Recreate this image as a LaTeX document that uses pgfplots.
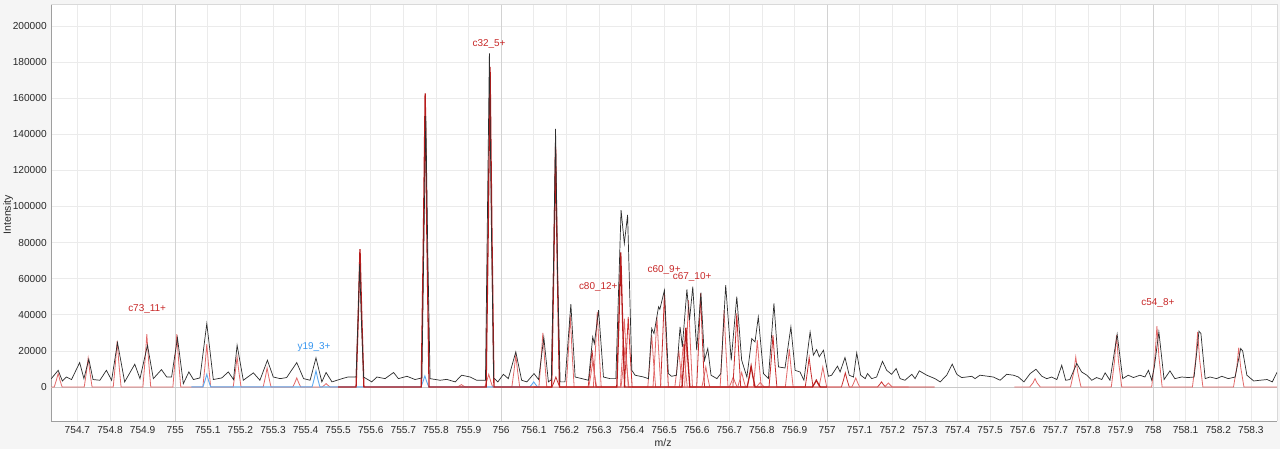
\documentclass[border=0pt]{standalone}
\usepackage{fontspec}
\setmainfont{Liberation Sans}
\usepackage{pgfplots}
\usepackage{pgfplotstable}
\pgfplotsset{compat=1.18}

\definecolor{bg}{RGB}{245,245,245}
\definecolor{gridc}{RGB}{235,235,235}
\definecolor{gridmaj}{RGB}{210,210,210}
\definecolor{zeroc}{RGB}{200,200,200}
\definecolor{expc}{RGB}{45,45,45}
\definecolor{darkred}{RGB}{183,28,28}
\definecolor{midred}{RGB}{200,45,45}
\definecolor{lightred}{RGB}{226,105,105}
\definecolor{lblred}{RGB}{200,40,40}
\definecolor{ionblue}{RGB}{95,170,240}
\definecolor{lblblue}{RGB}{55,150,240}
\definecolor{tickc}{RGB}{40,40,40}

% experimental trace (m/z, intensity)
\pgfplotstableread{
x y
754.620 4600
754.641 9200
754.654 3300
754.666 5500
754.682 4100
754.707 13500
754.720 4600
754.735 15400
754.748 4100
754.769 3700
754.789 9200
754.805 3700
754.823 24600
754.845 2800
754.876 12600
754.892 4600
754.915 23100
754.933 4600
754.958 9600
754.974 5500
754.989 5500
755.007 27200
755.025 1800
755.042 8300
755.056 4100
755.076 5000
755.097 35100
755.117 4100
755.143 5000
755.163 8300
755.179 4100
755.190 23100
755.209 3700
755.240 7800
755.260 3700
755.283 14800
755.301 5500
755.322 4600
755.342 5200
755.373 13500
755.394 4600
755.414 3700
755.432 16100
755.450 2800
755.463 8000
755.481 2800
755.512 4600
755.530 5500
755.548 5500
755.555 5500
755.561 38000
755.566 68000
755.571 38000
755.578 5500
755.603 2800
755.619 5500
755.644 4600
755.670 8000
755.685 4600
755.711 5900
755.736 4100
755.757 5000
755.763 80000
755.769 150000
755.775 75000
755.782 4600
755.813 3700
755.833 4200
755.859 2800
755.879 6500
755.905 5500
755.925 3700
755.946 3700
755.952 3700
755.958 95000
755.964 185000
755.970 90000
755.977 5000
755.990 2800
756.007 7000
756.022 4600
756.045 19400
756.063 3700
756.079 2800
756.101 7400
756.115 4100
756.131 27500
756.145 2800
756.154 4000
756.161 70000
756.167 143000
756.173 65000
756.181 2800
756.196 2800
756.214 45900
756.227 5500
756.248 4600
756.268 3700
756.281 27700
756.286 24000
756.299 42500
756.314 5500
756.334 4600
756.352 4600
756.368 98000
756.378 79500
756.388 95300
756.401 9200
756.411 6500
756.437 5500
756.452 4600
756.462 32400
756.469 29600
756.483 44400
756.487 43000
756.501 53600
756.513 7400
756.523 5900
756.538 6500
756.549 33300
756.556 22200
756.570 54000
756.578 37000
756.588 55500
756.600 20350
756.613 52200
756.624 14800
756.634 21300
756.644 6500
756.662 4600
756.674 7400
756.689 56400
756.706 14800
756.723 50000
756.738 14800
756.754 5500
756.769 26800
756.779 25000
756.789 38800
756.805 7400
756.820 4600
756.837 46250
756.851 11100
756.871 10500
756.889 33300
756.902 9200
756.917 8300
756.929 3700
756.948 30500
756.958 17600
756.968 20700
756.976 16700
756.989 20350
757.004 5900
757.014 6500
757.032 11500
757.040 8300
757.055 16300
757.068 6500
757.081 5500
757.091 18900
757.103 6500
757.117 4600
757.124 7400
757.137 4600
757.152 5500
757.170 14200
757.183 9200
757.198 7000
757.212 10200
757.224 4600
757.239 3700
757.260 7000
757.270 4600
757.283 8900
757.306 6500
757.331 4600
757.347 2800
757.367 6500
757.384 12600
757.398 7000
757.413 5200
757.428 5500
757.444 5900
757.454 4600
757.469 6500
757.490 6000
757.510 5500
757.531 3700
757.551 7000
757.572 6500
757.587 5500
757.604 2800
757.623 7400
757.641 9800
757.659 5900
757.674 4600
757.689 5500
757.705 4100
757.720 12000
757.732 3700
757.745 4100
757.766 13000
757.781 8300
757.797 6500
757.812 3700
757.827 5200
757.843 4100
757.853 7800
757.868 3700
757.890 29200
757.907 4600
757.924 6500
757.940 5200
757.960 6500
757.975 5500
757.986 9200
757.996 3700
758.004 11000
758.018 30500
758.034 4100
758.052 8900
758.067 4600
758.088 5500
758.108 5200
758.126 5500
758.141 30900
758.147 29600
758.160 4600
758.175 5500
758.195 4600
758.211 5900
758.231 4600
758.252 5500
758.269 21300
758.275 20000
758.288 6500
758.309 3300
758.328 3700
758.350 4100
758.366 2800
758.381 8300
}\exptrace

\begin{document}
\begin{tikzpicture}[x=1bp,y=1bp]
\fill[bg] (-51,-28) rectangle (1229,421);
\begin{axis}[
  at={(0,0)}, anchor=south west,
  scale only axis, width=1226bp, height=417bp,
  xmin=754.6196, xmax=758.3804,
  ymin=-18840, ymax=212180,
  axis background/.style={fill=white},
  axis lines*=left,
  axis line style={draw=gray!75, line width=0.7bp},
  xtick distance=0.1,
  ytick={0,20000,40000,60000,80000,100000,120000,140000,160000,180000,200000},
  scaled x ticks=false, scaled y ticks=false,
  major tick length=0pt,
  tick style={draw=none},
  tick label style={font=\fontsize{10.2}{12}\selectfont, text=tickc},
  xticklabel style={/pgf/number format/fixed, /pgf/number format/precision=1,
    /pgf/number format/1000 sep={}, /pgf/number format/assume math mode=true, yshift=-2bp},
  yticklabel style={/pgf/number format/fixed, /pgf/number format/precision=0,
    /pgf/number format/1000 sep={}, /pgf/number format/assume math mode=true, xshift=-1bp},
  grid=major,
  major grid style={draw=gridc, line width=0.6bp},
  extra x ticks={755,756,757,758},
  extra x tick labels={},
  extra x tick style={major grid style={draw=gridmaj, line width=0.8bp}},
  extra y ticks={0},
  extra y tick labels={},
  extra y tick style={major grid style={draw=zeroc, line width=0.8bp}},
]
% c73_11+
\addplot[lightred, line width=0.8bp] coordinates {
(754.620,0) (754.629,0) (754.6355,3750) (754.641,7500) (754.6465,3750) (754.653,0)
(754.721,0) (754.7275,8000) (754.733,16000) (754.7385,8000) (754.745,0)
(754.810,0) (754.8165,12650) (754.822,25300) (754.8275,12650) (754.834,0)
(754.901,0) (754.9075,14600) (754.913,29200) (754.9185,14600) (754.925,0)
(754.993,0) (754.9995,14600) (755.005,29200) (755.0105,14600) (755.017,0)
(755.085,0) (755.0915,11850) (755.097,23700) (755.1025,11850) (755.109,0)
(755.178,0) (755.1845,8300) (755.190,16600) (755.1955,8300) (755.202,0)
(755.270,0) (755.2765,5250) (755.282,10500) (755.2875,5250) (755.294,0)
(755.361,0) (755.3675,2500) (755.373,5000) (755.3785,2500) (755.385,0)
(755.451,0) (755.4575,925) (755.463,1850) (755.4685,925) (755.475,0)
(755.500,0)
};
% c54_8+
\addplot[lightred, line width=0.8bp] coordinates {
(757.575,0) (757.622,0) (757.632,2300) (757.638,4600) (757.644,2300) (757.654,0)
(757.747,0) (757.757,8300) (757.763,16600) (757.769,8300) (757.779,0)
(757.872,0) (757.882,14350) (757.888,28700) (757.894,14350) (757.904,0)
(757.996,0) (758.006,16850) (758.012,33700) (758.018,16850) (758.028,0)
(758.121,0) (758.131,15250) (758.137,30500) (758.143,15250) (758.153,0)
(758.247,0) (758.257,10900) (758.263,21800) (758.269,10900) (758.279,0)
(758.380,0)
};
% c80_12+
\addplot[lightred, line width=0.8bp] coordinates {
(755.860,0) (755.866,0) (755.8725,650) (755.878,1300) (755.8835,650) (755.890,0)
(755.950,0) (755.9565,3500) (755.962,7000) (755.9675,3500) (755.974,0)
(756.033,0) (756.0395,8800) (756.045,17600) (756.0505,8800) (756.057,0)
(756.116,0) (756.1225,15000) (756.128,30000) (756.1335,15000) (756.140,0)
(756.200,0) (756.2065,19900) (756.212,39800) (756.2175,19900) (756.224,0)
(756.283,0) (756.2895,20800) (756.295,41600) (756.3005,20800) (756.307,0)
(756.366,0) (756.3725,18950) (756.378,37900) (756.3835,18950) (756.390,0)
(756.450,0) (756.4565,14350) (756.462,28700) (756.4675,14350) (756.474,0)
(756.533,0) (756.5395,10175) (756.545,20350) (756.5505,10175) (756.557,0)
(756.616,0) (756.6225,5550) (756.628,11100) (756.6335,5550) (756.640,0)
(756.700,0) (756.7065,2750) (756.712,5500) (756.7175,2750) (756.724,0)
(756.783,0) (756.7895,1250) (756.795,2500) (756.8005,1250) (756.807,0)
(756.820,0)
};
% c60_9+
\addplot[midred, line width=0.8bp] coordinates {
(756.100,0) (756.156,0) (756.1625,2750) (756.168,5500) (756.1735,2750) (756.180,0)
(756.267,0) (756.2735,10175) (756.279,20350) (756.2845,10175) (756.291,0)
(756.378,0) (756.3845,19400) (756.390,38800) (756.3955,19400) (756.402,0)
(756.489,0) (756.4955,25900) (756.501,51800) (756.5065,25900) (756.513,0)
(756.600,0) (756.6065,25900) (756.612,51800) (756.6175,25900) (756.624,0)
(756.711,0) (756.7175,20350) (756.723,40700) (756.7285,20350) (756.735,0)
(756.822,0) (756.8285,14350) (756.834,28700) (756.8395,14350) (756.846,0)
(756.933,0) (756.9395,8150) (756.945,16300) (756.9505,8150) (756.957,0)
(757.044,0) (757.0505,3900) (757.056,7800) (757.0615,3900) (757.068,0)
(757.155,0) (757.1615,1400) (757.167,2800) (757.1725,1400) (757.179,0)
(757.330,0)
};
% c67_10+
\addplot[lightred, line width=0.8bp] coordinates {
(756.200,0) (756.269,0) (756.2755,6950) (756.281,13900) (756.2865,6950) (756.293,0)
(756.368,0) (756.3745,11000) (756.380,22000) (756.3855,11000) (756.392,0)
(756.466,0) (756.4725,19400) (756.478,38800) (756.4835,19400) (756.490,0)
(756.563,0) (756.5695,24050) (756.575,48100) (756.5805,24050) (756.587,0)
(756.672,0) (756.6785,21250) (756.684,42500) (756.6895,21250) (756.696,0)
(756.774,0) (756.7805,12950) (756.786,25900) (756.7915,12950) (756.798,0)
(756.872,0) (756.8785,10500) (756.884,21000) (756.8895,10500) (756.896,0)
(756.975,0) (756.9815,5550) (756.987,11100) (756.9925,5550) (756.999,0)
(757.076,0) (757.0825,2500) (757.088,5000) (757.0935,2500) (757.100,0)
(757.176,0) (757.1825,1100) (757.188,2200) (757.1935,1100) (757.200,0)
(757.250,0)
};
% further minor envelope
\addplot[lightred, line width=0.8bp] coordinates {
(756.500,0) (756.547,0) (756.5535,12000) (756.559,24000) (756.5645,12000) (756.571,0)
(756.726,0) (756.7325,4000) (756.738,8000) (756.7435,4000) (756.750,0) (756.800,0)
};
% y19_3+
\addplot[ionblue, line width=0.9bp] coordinates {
(755.050,0) (755.085,0) (755.0915,3500) (755.097,7000) (755.1025,3500) (755.109,0)
(755.420,0) (755.4265,4450) (755.432,8900) (755.4375,4450) (755.444,0)
(755.754,0) (755.7605,3050) (755.766,6100) (755.7715,3050) (755.778,0)
(756.088,0) (756.0945,1400) (756.100,2800) (756.1055,1400) (756.112,0)
(756.120,0)
};
% c32_5+
\addplot[darkred, line width=1.3bp] coordinates {
(755.500,0) (755.555,0) (755.5615,38200) (755.567,76400) (755.5725,38200) (755.579,0)
(755.755,0) (755.7615,81350) (755.767,162700) (755.7725,81350) (755.779,0)
(755.954,0) (755.9605,88700) (755.966,177400) (755.9715,88700) (755.978,0)
(756.155,0) (756.1615,66550) (756.167,133100) (756.1725,66550) (756.179,0)
(756.355,0) (756.3615,37250) (756.367,74500) (756.3725,37250) (756.379,0)
(756.555,0) (756.5615,16450) (756.567,32900) (756.5725,16450) (756.579,0)
(756.755,0) (756.7615,5750) (756.767,11500) (756.7725,5750) (756.779,0)
(756.955,0) (756.9615,1850) (756.967,3700) (756.9725,1850) (756.979,0)
(757.000,0)
};
% experimental spectrum
\addplot[expc, line width=0.7bp] table[x=x, y=y] {\exptrace};

\begin{scope}[font=\fontsize{10}{12}\selectfont]
\node[text=lblred] at (axis cs:754.914,43200) {c73\_11+};
\node[text=lblblue] at (axis cs:755.426,22200) {y19\_3+};
\node[text=lblred] at (axis cs:755.963,190000) {c32\_5+};
\node[text=lblred] at (axis cs:756.298,55400) {c80\_12+};
\node[text=lblred] at (axis cs:756.500,64800) {c60\_9+};
\node[text=lblred] at (axis cs:756.586,60900) {c67\_10+};
\node[text=lblred] at (axis cs:758.015,46500) {c54\_8+};
\end{scope}
\end{axis}
\draw[gray!30, line width=0.6bp] (0,417) -- (1226,417) -- (1226,0);
\node[rotate=90, font=\fontsize{10.5}{12}\selectfont, text=tickc] at (-43,206) {Intensity};
\node[font=\fontsize{10.5}{12}\selectfont, text=tickc] at (612,-22) {m/z};
\end{tikzpicture}
\end{document}
